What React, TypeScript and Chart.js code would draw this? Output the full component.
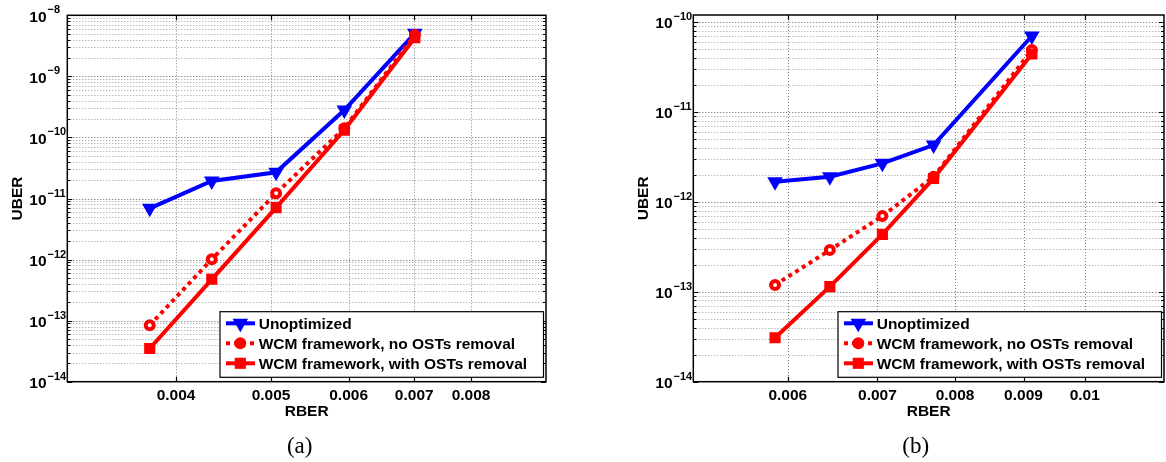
import React, { useEffect, useRef } from 'react';
import { Chart, registerables } from 'chart.js';

Chart.register(...registerables);

const seriesLabels = [
  'Unoptimized',
  'WCM framework, no OSTs removal',
  'WCM framework, with OSTs removal',
];

// Panel (a)
const rberA = [0.00376, 0.00435, 0.00506, 0.00594, 0.00701];
const unoptA = [6.9e-12, 1.94e-11, 2.69e-11, 2.81e-10, 5.07e-9];
const noRemovalA = [8.4e-14, 1.01e-12, 1.22e-11, 1.41e-10, 4.76e-9];
const withRemovalA = [3.5e-14, 4.75e-13, 7.1e-12, 1.32e-10, 4.3e-9];
const xTicksA = [0.004, 0.005, 0.006, 0.007, 0.008];

// Panel (b)
const rberB = [0.00587, 0.00645, 0.00706, 0.00771, 0.00913];
const unoptB = [1.67e-12, 1.9e-12, 2.68e-12, 4.28e-12, 6.98e-11];
const noRemovalB = [1.19e-13, 2.91e-13, 6.95e-13, 1.9e-12, 4.88e-11];
const withRemovalB = [3.08e-14, 1.14e-13, 4.35e-13, 1.82e-12, 4.41e-11];
const xTicksB = [0.006, 0.007, 0.008, 0.009, 0.01];

const FONT = '"Liberation Sans", Arial, Helvetica, sans-serif';

type Panel = {
  x: number[];
  s1: number[];
  s2: number[];
  s3: number[];
  xTicks: number[];
  xMin: number;
  xMax: number;
  yMin: number;
  yMax: number;
  canvasLeft: number;
  width: number;
  height: number;
  axisWidth: number;
  top: number;
  padRight: number;
  bottom: number;
};

function yGridValues(min: number, max: number) {
  const out: { v: number; major: boolean; e: number }[] = [];
  const e0 = Math.floor(Math.log10(min) + 1e-9);
  const e1 = Math.ceil(Math.log10(max) - 1e-9);
  for (let e = e0; e <= e1; e++) {
    for (let m = 1; m <= 9; m++) {
      const v = m * Math.pow(10, e);
      if (v >= min * 0.9999 && v <= max * 1.0001) out.push({ v, major: m === 1, e });
    }
  }
  return out;
}

function drawMarker(ctx: CanvasRenderingContext2D, style: string, x: number, y: number, color: string, legend: boolean) {
  ctx.save();
  ctx.setLineDash([]);
  ctx.strokeStyle = color;
  ctx.fillStyle = color;
  if (style === 'triangle') {
    const r = 7;
    ctx.lineWidth = 2;
    ctx.beginPath();
    ctx.moveTo(x, y + r);
    ctx.lineTo(x - r * Math.sin(Math.PI / 3), y - r / 2);
    ctx.lineTo(x + r * Math.sin(Math.PI / 3), y - r / 2);
    ctx.closePath();
    ctx.fill();
    ctx.stroke();
  } else if (style === 'circle') {
    ctx.lineWidth = 4;
    ctx.beginPath();
    ctx.arc(x, y, 4, 0, Math.PI * 2);
    ctx.fillStyle = legend ? color : '#ffffff';
    ctx.fill();
    ctx.stroke();
  } else {
    const s = 4.8;
    ctx.lineWidth = 1.5;
    ctx.fillRect(x - s, y - s, 2 * s, 2 * s);
    ctx.strokeRect(x - s, y - s, 2 * s, 2 * s);
  }
  ctx.restore();
}

const matlabAxes = {
  id: 'matlabAxes',
  beforeDatasetsDraw(chart: any, _args: any, opts: any) {
    const { ctx, chartArea: a, scales } = chart;
    const xs = scales.x;
    const ys = scales.y;
    ctx.save();
    ctx.beginPath();
    ctx.rect(a.left, a.top, a.right - a.left, a.bottom - a.top);
    ctx.clip();
    ctx.lineWidth = 1;
    ctx.setLineDash([1, 2]);
    for (const t of yGridValues(ys.min, ys.max)) {
      const py = Math.round(ys.getPixelForValue(t.v)) + 0.5;
      ctx.strokeStyle = t.major ? '#5e5e5e' : '#9c9c9c';
      ctx.beginPath();
      ctx.moveTo(a.left, py);
      ctx.lineTo(a.right, py);
      ctx.stroke();
    }
    ctx.strokeStyle = '#808080';
    for (const v of opts.xTicks as number[]) {
      const px = Math.round(xs.getPixelForValue(v)) + 0.5;
      ctx.beginPath();
      ctx.moveTo(px, a.top);
      ctx.lineTo(px, a.bottom);
      ctx.stroke();
    }
    ctx.restore();
  },
  afterDatasetsDraw(chart: any, _args: any, opts: any) {
    const { ctx, chartArea: a, scales } = chart;
    const xs = scales.x;
    const ys = scales.y;
    ctx.save();
    ctx.setLineDash([]);
    ctx.strokeStyle = '#000';
    ctx.lineWidth = 1.2;
    // inward ticks
    for (const t of yGridValues(ys.min, ys.max)) {
      const py = Math.round(ys.getPixelForValue(t.v)) + 0.5;
      const len = t.major ? 5 : 3;
      ctx.beginPath();
      ctx.moveTo(a.left, py);
      ctx.lineTo(a.left + len, py);
      ctx.moveTo(a.right, py);
      ctx.lineTo(a.right - len, py);
      ctx.stroke();
    }
    for (const v of opts.xTicks as number[]) {
      const px = Math.round(xs.getPixelForValue(v)) + 0.5;
      ctx.beginPath();
      ctx.moveTo(px, a.bottom);
      ctx.lineTo(px, a.bottom - 5);
      ctx.moveTo(px, a.top);
      ctx.lineTo(px, a.top + 5);
      ctx.stroke();
    }
    // box
    ctx.lineWidth = 1.5;
    ctx.strokeRect(a.left, a.top, a.right - a.left, a.bottom - a.top);

    // y tick labels 10^n
    ctx.fillStyle = '#000';
    ctx.textAlign = 'left';
    ctx.textBaseline = 'alphabetic';
    for (const t of yGridValues(ys.min, ys.max)) {
      if (!t.major) continue;
      const py = ys.getPixelForValue(t.v);
      const lx = a.left - 38;
      ctx.font = 'bold 15.5px ' + FONT;
      ctx.fillText('10', lx, py + 6.4);
      const w = ctx.measureText('10').width;
      ctx.font = 'bold 11px ' + FONT;
      ctx.fillText('\u2212' + Math.abs(t.e), lx + w + 1, py - 2);
    }
    // x tick labels
    ctx.font = 'bold 15.5px ' + FONT;
    ctx.textAlign = 'center';
    for (const v of opts.xTicks as number[]) {
      const px = xs.getPixelForValue(v);
      ctx.fillText(String(v), px, a.bottom + 18.3);
    }
    // axis titles
    ctx.fillText('RBER', (a.left + a.right) / 2, a.bottom + 34.3);
    ctx.save();
    ctx.translate(a.left - 50, (a.top + a.bottom) / 2);
    ctx.rotate(-Math.PI / 2);
    ctx.textBaseline = 'middle';
    ctx.fillText('UBER', 0, 0);
    ctx.restore();

    // legend
    const lw = 323.5;
    const lh = 65.6;
    const lr = a.right - 2.5;
    const lb = a.bottom - 4.4;
    const lx0 = lr - lw;
    const ly0 = lb - lh;
    ctx.fillStyle = '#fff';
    ctx.fillRect(lx0, ly0, lw, lh);
    ctx.strokeStyle = '#000';
    ctx.lineWidth = 1.2;
    ctx.strokeRect(lx0, ly0, lw, lh);
    chart.data.datasets.forEach((ds: any, i: number) => {
      const cy = ly0 + 11.6 + i * 20;
      ctx.save();
      ctx.strokeStyle = ds.borderColor;
      ctx.lineWidth = 4;
      ctx.setLineDash(ds.borderDash || []);
      ctx.beginPath();
      ctx.moveTo(lx0 + 6, cy);
      ctx.lineTo(lx0 + 35, cy);
      ctx.stroke();
      ctx.restore();
      drawMarker(ctx, ds.pointStyle, lx0 + 20.3, cy, ds.borderColor, true);
      ctx.fillStyle = '#000';
      ctx.font = 'bold 15.5px ' + FONT;
      ctx.textAlign = 'left';
      ctx.textBaseline = 'alphabetic';
      ctx.fillText(ds.label, lx0 + 38.7, cy + 5.3);
    });
    ctx.restore();
  },
};

function makeConfig(p: Panel): any {
  const pts = (ys: number[]) => p.x.map((x, i) => ({ x, y: ys[i] }));
  return {
    type: 'line',
    data: {
      datasets: [
        {
          label: seriesLabels[0],
          data: pts(p.s1),
          borderColor: '#0000ff',
          backgroundColor: '#0000ff',
          borderWidth: 4,
          pointStyle: 'triangle',
          pointRotation: 180,
          pointRadius: 7,
          pointBorderWidth: 2,
          pointBackgroundColor: '#0000ff',
          order: 3,
        },
        {
          label: seriesLabels[1],
          data: pts(p.s2),
          borderColor: '#ff0000',
          backgroundColor: '#ff0000',
          borderWidth: 4,
          borderDash: [4, 4],
          pointStyle: 'circle',
          pointRadius: 4,
          pointBorderWidth: 4,
          pointBackgroundColor: '#ffffff',
          order: 2,
        },
        {
          label: seriesLabels[2],
          data: pts(p.s3),
          borderColor: '#ff0000',
          backgroundColor: '#ff0000',
          borderWidth: 4,
          pointStyle: 'rect',
          pointRadius: 6.8,
          pointBorderWidth: 1.5,
          pointBackgroundColor: '#ff0000',
          order: 1,
        },
      ],
    },
    options: {
      animation: false,
      responsive: false,
      maintainAspectRatio: false,
      events: [],
      layout: { padding: { left: 0, top: p.top, right: p.padRight, bottom: 0 } },
      scales: {
        x: {
          type: 'logarithmic',
          min: p.xMin,
          max: p.xMax,
          ticks: { display: false },
          grid: { display: false },
          border: { display: false },
          afterFit: (s: any) => {
            s.height = p.height - p.bottom;
          },
        },
        y: {
          type: 'logarithmic',
          min: p.yMin,
          max: p.yMax,
          ticks: { display: false },
          grid: { display: false },
          border: { display: false },
          afterFit: (s: any) => {
            s.width = p.axisWidth;
          },
        },
      },
      plugins: {
        legend: { display: false },
        tooltip: { enabled: false },
        matlabAxes: { xTicks: p.xTicks },
      },
    },
    plugins: [matlabAxes],
  };
}

function PanelChart({ p }: { p: Panel }) {
  const ref = useRef<HTMLCanvasElement | null>(null);
  useEffect(() => {
    if (!ref.current) return;
    const chart = new Chart(ref.current, makeConfig(p));
    return () => chart.destroy();
  }, [p]);
  return (
    <canvas
      ref={ref}
      width={p.width}
      height={p.height}
      style={{ position: 'absolute', left: p.canvasLeft, top: 0, width: p.width, height: p.height }}
    />
  );
}

const panelA: Panel = {
  x: rberA,
  s1: unoptA,
  s2: noRemovalA,
  s3: withRemovalA,
  xTicks: xTicksA,
  xMin: 0.003098,
  xMax: 0.00954,
  yMin: 1e-14,
  yMax: 1e-8,
  canvasLeft: 0,
  width: 583,
  height: 462,
  axisWidth: 67.3,
  top: 15.3,
  padRight: 37,
  bottom: 381.7,
};

const panelB: Panel = {
  x: rberB,
  s1: unoptB,
  s2: noRemovalB,
  s3: withRemovalB,
  xTicks: xTicksB,
  xMin: 0.0051,
  xMax: 0.01146,
  yMin: 1e-14,
  yMax: 1.196e-10,
  canvasLeft: 583,
  width: 590,
  height: 462,
  axisWidth: 110.3,
  top: 15,
  padRight: 6,
  bottom: 381.7,
};

const captionStyle = (cx: number): React.CSSProperties => ({
  position: 'absolute',
  left: cx - 50,
  width: 100,
  top: 434,
  textAlign: 'center',
  fontFamily: '"Liberation Serif", "Times New Roman", serif',
  fontSize: 23,
  lineHeight: '23px',
  color: '#000',
});

export default function App() {
  return (
    <div
      style={{
        position: 'absolute',
        left: 0,
        top: 0,
        width: 1166,
        height: 462,
        overflow: 'hidden',
        background: '#fff',
      }}
    >
      <PanelChart p={panelA} />
      <PanelChart p={panelB} />
      <div style={captionStyle(299.7)}>(a)</div>
      <div style={captionStyle(915.7)}>(b)</div>
    </div>
  );
}
